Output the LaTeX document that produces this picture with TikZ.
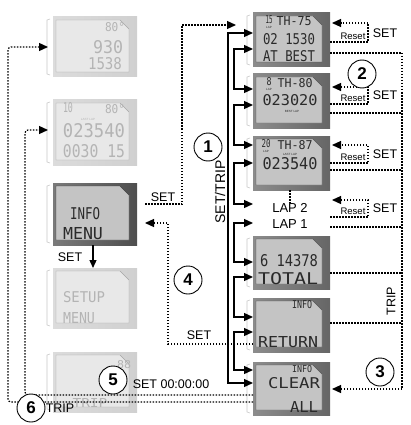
\documentclass[tikz,border=0pt]{standalone}
\usepackage{fontspec}
\setmainfont{Liberation Sans}
\newfontfamily\lcdfont{DejaVu Sans Mono}
\usepackage{graphicx}
\usetikzlibrary{arrows.meta,calc}
\definecolor{frameN}{HTML}{666666}
\definecolor{innerN}{HTML}{C4C4C4}
\definecolor{txtN}{HTML}{2A2A2A}
\definecolor{frameF}{HTML}{D0D0D0}
\definecolor{innerF}{HTML}{E8E8E8}
\definecolor{txtF}{HTML}{B4B4B4}
\definecolor{frameD}{HTML}{4E4E4E}
\newcommand\lt[3]{\resizebox{#1pt}{#2pt}{\lcdfont #3}}
\newcommand\lcdscr[7]{%
  \node[inner sep=0pt, outer sep=0pt, anchor=north west,
        minimum width={#4-#2}, minimum height={#5-#3},
        left color=#6!75!white, right color=#6] (#1) at (#2,#3) {};
  \filldraw[fill=#7, draw=#6!80!black, line width=0.4pt]
     (#2+3,#3+3) -- (#4-17,#3+3) -- (#4-8,#3+12) -- (#4-8,#5-5) -- (#2+3,#5-5) -- cycle;
  \draw[gray!45, line width=0.6pt] (#2-3,#3+2) -- (#2-6,#3+3) -- (#2-6,#5-3) -- (#2-3,#5-2);
}
\tikzset{
  sarr/.style={line width=1.3pt, -{Triangle[length=9pt,width=8pt]}},
  sboth/.style={line width=1.3pt, {Triangle[length=9pt,width=8pt]}-{Triangle[length=9pt,width=8pt]}},
  dotl/.style={line width=1.2pt, dash pattern=on 1.5pt off 1.5pt},
  darr/.style={dotl, -{Triangle[length=9pt,width=8pt]}},
  circ/.style={circle, draw, line width=0.9pt, fill=white, minimum size=28pt, inner sep=0pt,
               font=\bfseries\fontsize{17}{17}\selectfont},
  lbl/.style={inner sep=0pt, font=\fontsize{12.5}{12.5}\selectfont},
  rlbl/.style={inner sep=0pt, font=\fontsize{9.5}{9.5}\selectfont},
  tn/.style={inner sep=0pt, txtN},
  tf/.style={inner sep=0pt, txtF},
  tiny/.style={inner sep=0pt, font=\fontsize{3}{3}\selectfont},
}
\begin{document}
\begin{tikzpicture}[x=1pt,y=-1pt]
\useasboundingbox (0,0) rectangle (411,425);
% ---------- screens ----------
\lcdscr{A}{53}{17}{137}{77}{frameF}{innerF}
\lcdscr{B}{53}{100}{137}{165}{frameF}{innerF}
\lcdscr{C}{53}{183}{137}{245}{frameD}{innerN}
\lcdscr{D}{53}{268}{137}{328}{frameF}{innerF}
\lcdscr{E}{53}{352}{137}{412}{frameF}{innerF}
\lcdscr{s1}{253}{13}{330}{67}{frameN}{innerN}
\lcdscr{s2}{253}{74}{330}{128}{frameN}{innerN}
\lcdscr{s3}{253}{136}{330}{190}{frameN}{innerN}
\lcdscr{s4}{253}{236}{330}{289}{frameN}{innerN}
\lcdscr{s5}{253}{298}{330}{352}{frameN}{innerN}
\lcdscr{s6}{253}{362}{330}{415}{frameN}{innerN}
% ---------- screen texts ----------
\node[tf] (a1) at (115,27) {\lt{20}{9}{80°}};
\node[tf] (a2) at (108,47) {\lt{30}{13}{930}};
\node[tf] (a3) at (105,64) {\lt{34}{12}{1538}};
\node[tf] (b1) at (68,108) {\lt{10}{10}{10}};
\node[tf] (b2) at (115,109) {\lt{20}{9}{80°}};
\node[tf,tiny] (b3) at (88,119) {LAST LAP};
\node[tf] (b4) at (94,131) {\lt{62}{14}{023540}};
\node[tf] (b5) at (94,151) {\lt{62}{13}{0030 15}};
\node[tn] (c1t) at (85,214) {\lt{30}{12}{INFO}};
\node[tn] (c2t) at (83,234) {\lt{40}{12}{MENU}};
\node[tf] (d1) at (84,297) {\lt{42}{11}{SETUP}};
\node[tf] (d2) at (79,318) {\lt{32}{11}{MENU}};
\node[tf] (e1) at (124,365) {\lt{14}{8}{88}};
\node[tf] (e2) at (90,403) {\lt{35}{9}{TRIP}};
\node[tn] (s1a) at (269,20) {\lt{7}{8}{15}};
\node[tn,tiny] (s1b) at (269,27) {LAP};
\node[tn] (s1c) at (294,21) {\lt{35}{9}{TH-75}};
\node[tn] (s1d) at (289,39) {\lt{52}{11}{02 1530}};
\node[tn] (s1e) at (289,56) {\lt{52}{11}{AT BEST}};
\node[tn] (s2a) at (269,82) {\lt{5}{8}{8}};
\node[tn,tiny] (s2b) at (269,89) {LAP};
\node[tn] (s2c) at (295,83) {\lt{35}{9}{TH-80}};
\node[tn] (s2d) at (290,100) {\lt{55}{11}{023020}};
\node[tn,tiny] (s2e) at (292,111) {BEST LAP};
\node[tn] (s3a) at (266,144) {\lt{9}{8}{20}};
\node[tn,tiny] (s3b) at (266,151) {LAP};
\node[tn] (s3c) at (295,145) {\lt{35}{9}{TH-87}};
\node[tn,tiny] (s3e) at (290,154) {LAST LAP};
\node[tn] (s3d) at (290,164) {\lt{55}{12}{023540}};
\node[tn] (s4a) at (289,261) {\lt{58}{12}{6 14378}};
\node[tn] (s4b) at (288,279) {\lt{60}{12}{TOTAL}};
\node[tn] (s5a) at (302,305) {\lt{20}{8}{INFO}};
\node[tn] (s5b) at (288,342) {\lt{60}{11}{RETURN}};
\node[tn] (s6a) at (302,369) {\lt{20}{7}{INFO}};
\node[tn] (s6b) at (294,383) {\lt{52}{11}{CLEAR}};
\node[tn] (s6c) at (304,407) {\lt{28}{11}{ALL}};
% ---------- LAP labels ----------
\node[inner sep=0pt, font=\fontsize{13}{13}\selectfont] (lap2) at (290,208) {LAP 2};
\node[inner sep=0pt, font=\fontsize{13}{13}\selectfont] (lap1) at (290,224) {LAP 1};
\draw[dotl] (lap2.north |- s3.south) -- (lap2.north);
% ---------- solid SET/TRIP arrows ----------
\coordinate (tt) at (228,33);
\coordinate (tb) at (228,383);
\draw[sarr] (tb) -- (tt) -- (s1.west |- tt);
\draw[sarr] (tt) -- (tb) -- (s6.west |- tb);
\draw[sboth] (s1.west |- 0,49) -- (234,49) -- (234,89) -- (s2.west |- 0,89);
\draw[sboth] (s2.west |- 0,105) -- (234,105) -- (234,145) -- (s3.west |- 0,145);
\draw[sboth] (s3.west |- 0,163) -- (234,163) -- (234,204) -- (s3.west |- 0,204);
\draw[sboth] (s4.west |- 0,223) -- (234,223) -- (234,262) -- (s4.west |- 0,262);
\draw[sboth] (s4.west |- 0,277) -- (234,277) -- (234,317) -- (s5.west |- 0,317);
\draw[sboth] (s5.west |- 0,332) -- (234,332) -- (234,370) -- (s6.west |- 0,370);
\node[lbl, font=\fontsize{14}{14}\selectfont, rotate=90] (settrip) at (220,192) {SET/TRIP};
% ---------- SET / Reset loops ----------
\draw[darr] (s1.east |- 0,42) -- (368,42) -- (368,23) -- ([xshift=2pt]s1.east |- 0,23);
\node[rlbl] (r1) at (353,36) {Reset};
\node[lbl] (t1) at (385,33) {SET};
\draw[darr] (s2.east |- 0,104) -- (368,104) -- (368,87) -- ([xshift=2pt]s2.east |- 0,87);
\node[rlbl] (r2) at (353,98) {Reset};
\node[lbl] (t2) at (385,95) {SET};
\draw[darr] (s3.east |- 0,163) -- (368,163) -- (368,145) -- ([xshift=2pt]s3.east |- 0,145);
\node[rlbl] (r3) at (353,157) {Reset};
\node[lbl] (t3) at (385,154) {SET};
\draw[darr] (s4.east |- 0,217) -- (368,217) -- (368,200) -- ([xshift=2pt]s4.east |- 0,200);
\node[rlbl] (r4) at (353,211) {Reset};
\node[lbl] (t4) at (385,208) {SET};
% ---------- TRIP on the right ----------
\draw[darr] (s1.east |- 0,53) -- (402,53) -- (402,389) -- ([xshift=2pt]s6.east |- 0,389);
\draw[dotl] (s2.east |- 0,113) -- (402,113);
\draw[dotl] (s3.east |- 0,170) -- (402,170);
\draw[dotl] (s4.east |- 0,227) -- (402,227);
\draw[dotl] (s4.east |- 0,273) -- (402,273);
\draw[dotl] (s5.east |- 0,323) -- (402,323);
\node[lbl, rotate=90] (trip1) at (391,301) {TRIP};
% ---------- INFO MENU links ----------
\draw[darr] ([xshift=8pt]C.east |- 0,204) -- (182,204) -- (182,25) -- ([xshift=-17pt]s1.west |- 0,25);
\node[lbl] (set1) at (163,197) {SET};
\draw[darr] (s5.west |- 0,344) -- (168,344) -- (168,223) -- ([xshift=8pt]C.east |- 0,223);
\node[lbl] (set2) at (199,335) {SET};
\draw[line width=1.3pt, -{Triangle[length=8pt,width=7pt]}] (C.south -| 93,0) -- (D.north -| 93,0);
\node[lbl] (set3) at (70,257) {SET};
% ---------- left TRIP / reset ----------
\draw[darr, rounded corners=3pt] (s6.west |- 0,395) -- (25,395) -- (25,130) -- ([xshift=-5pt]B.west |- 0,130);
\draw[darr, rounded corners=3pt] (s6.west |- 0,402) -- (8,402) -- (8,47) -- ([xshift=-5pt]A.west |- 0,47);
\node[lbl] (set4) at (171,384) {SET 00:00:00};
\node[lbl] (trip2) at (60,408) {TRIP};
% ---------- circled numbers ----------
\node[circ] (n1) at (208,147) {1};
\node[circ] (n2) at (362,74) {2};
\node[circ] (n3) at (380,372) {3};
\node[circ] (n4) at (188,280) {4};
\node[circ] (n5) at (113,380) {5};
\node[circ] (n6) at (31,408) {6};
\end{tikzpicture}
\end{document}
